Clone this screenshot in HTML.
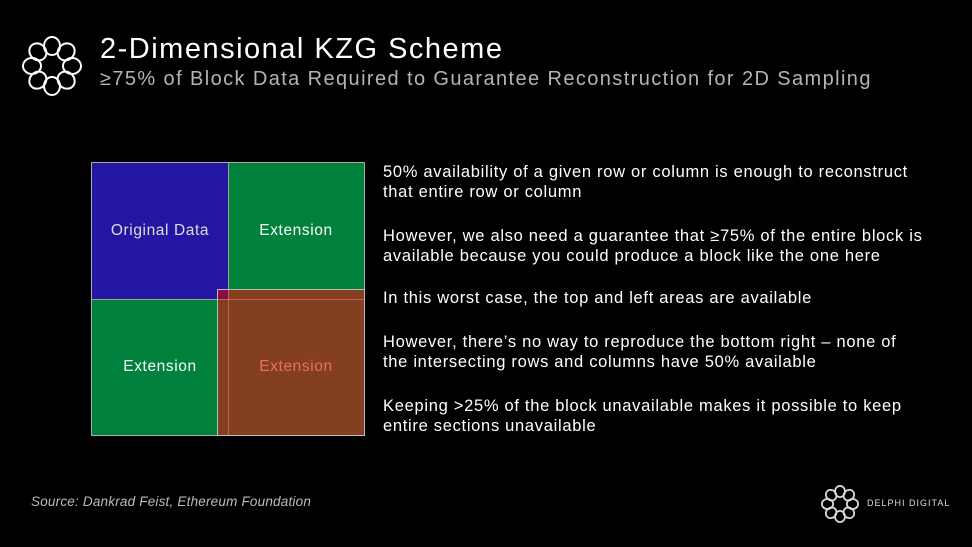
<!DOCTYPE html>
<html><head><meta charset="utf-8"><style>
body{margin:0;width:972px;height:547px;background:#000;position:relative;overflow:hidden;font-family:"Liberation Sans",sans-serif;color:#fff}
.a{position:absolute;white-space:nowrap}
.p{position:absolute;left:383px;font-size:16.5px;letter-spacing:0.7px;line-height:19.5px;color:#fff}
.c{position:absolute;display:flex;align-items:center;justify-content:center;font-size:15.5px;letter-spacing:0.6px}
</style></head><body>
<svg class="a" style="left:20px;top:34px" width="64" height="64" viewBox="-32 -32 64 64" fill="none" stroke="#fff" stroke-width="2">
<g><ellipse cx="0" cy="-20" rx="8" ry="9"/><ellipse cx="0" cy="-20" rx="8" ry="9" transform="rotate(45)"/><ellipse cx="0" cy="-20" rx="8" ry="9" transform="rotate(90)"/><ellipse cx="0" cy="-20" rx="8" ry="9" transform="rotate(135)"/><ellipse cx="0" cy="-20" rx="8" ry="9" transform="rotate(180)"/><ellipse cx="0" cy="-20" rx="8" ry="9" transform="rotate(225)"/><ellipse cx="0" cy="-20" rx="8" ry="9" transform="rotate(270)"/><ellipse cx="0" cy="-20" rx="8" ry="9" transform="rotate(315)"/></g></svg>
<div class="a" style="left:100px;top:33px;font-size:29px;letter-spacing:1.5px">2-Dimensional KZG Scheme</div>
<div class="a" style="left:100px;top:68px;font-size:20px;letter-spacing:1.4px;color:#b4b4b4">≥75% of Block Data Required to Guarantee Reconstruction for 2D Sampling</div>

<div class="c" style="left:92px;top:163px;width:136px;height:136px;background:#2216a3;color:#ddd">Original Data</div>
<div class="c" style="left:228px;top:163px;width:136px;height:136px;background:#00813c">Extension</div>
<div class="c" style="left:92px;top:299px;width:136px;height:136px;background:#00813c">Extension</div>
<div class="a" style="left:218px;top:290px;width:146px;height:145px;background:#843f20"></div>
<div class="c" style="left:228px;top:299px;width:136px;height:136px;color:#e87060">Extension</div>
<div class="a" style="left:218px;top:290px;width:10px;height:9px;background:#8a0a4a"></div>
<div class="a" style="left:91px;top:162px;width:272px;height:272px;border:1px solid #aaa"></div>
<div class="a" style="left:228px;top:163px;width:1px;height:272px;background:rgba(220,130,110,.6)"></div>
<div class="a" style="left:92px;top:299px;width:272px;height:1px;background:rgba(220,130,110,.6)"></div>
<div class="a" style="left:228px;top:163px;width:1px;height:127px;background:rgba(200,200,200,.5)"></div>
<div class="a" style="left:92px;top:299px;width:126px;height:1px;background:rgba(200,200,200,.5)"></div>
<div class="a" style="left:217px;top:289px;width:146px;height:145px;border:1px solid #bbb"></div>

<div class="p" style="top:163px">50% availability of a given row or column is enough to reconstruct<br>that entire row or column</div>
<div class="p" style="top:227px">However, we also need a guarantee that ≥75% of the entire block is<br>available because you could produce a block like the one here</div>
<div class="p" style="top:289px">In this worst case, the top and left areas are available</div>
<div class="p" style="top:333px">However, there’s no way to reproduce the bottom right – none of<br>the intersecting rows and columns have 50% available</div>
<div class="p" style="top:397px">Keeping &gt;25% of the block unavailable makes it possible to keep<br>entire sections unavailable</div>

<div class="a" style="left:31px;top:494px;font-size:13.5px;letter-spacing:0.2px;font-style:italic;color:#bbb">Source: Dankrad Feist, Ethereum Foundation</div>
<svg class="a" style="left:820px;top:484px" width="40" height="40" viewBox="-32 -32 64 64" fill="none" stroke="#ddd" stroke-width="2.8">
<g><ellipse cx="0" cy="-20" rx="8" ry="9"/><ellipse cx="0" cy="-20" rx="8" ry="9" transform="rotate(45)"/><ellipse cx="0" cy="-20" rx="8" ry="9" transform="rotate(90)"/><ellipse cx="0" cy="-20" rx="8" ry="9" transform="rotate(135)"/><ellipse cx="0" cy="-20" rx="8" ry="9" transform="rotate(180)"/><ellipse cx="0" cy="-20" rx="8" ry="9" transform="rotate(225)"/><ellipse cx="0" cy="-20" rx="8" ry="9" transform="rotate(270)"/><ellipse cx="0" cy="-20" rx="8" ry="9" transform="rotate(315)"/></g></svg>
<div class="a" style="left:867px;top:498px;font-size:9px;letter-spacing:1.0px;color:#ddd">DELPHI DIGITAL</div>
</body></html>
